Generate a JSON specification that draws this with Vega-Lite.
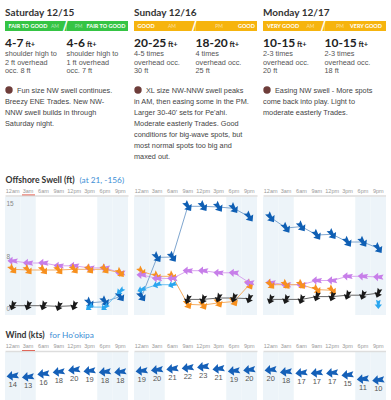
{
 "$schema": "https://vega.github.io/schema/vega-lite/v6.json",
 "padding": {"left": 5, "top": 5, "right": 0, "bottom": 0},
 "background": "white",
 "config": {"view": {"stroke": null}, "text": {"font": "Liberation Sans"}, "axis": {"grid": false}},
 "datasets": {
  "hdrSat": [
   {"kind": "title", "half": "AM", "text": "Saturday 12/15"},
   {"kind": "rating", "half": "AM", "text": "FAIR TO GOOD"},
   {"kind": "rating", "half": "PM", "text": "FAIR TO GOOD"},
   {"kind": "size", "half": "AM", "text": "4-7"},
   {"kind": "size", "half": "PM", "text": "4-6"},
   {"kind": "desc", "half": "AM", "text": "shoulder high to\n2 ft overhead\nocc. 8 ft"},
   {"kind": "desc", "half": "PM", "text": "shoulder high to\n1 ft overhead\nocc. 7 ft"},
   {"kind": "para1", "half": "AM", "text": "Fun size NW swell continues."},
   {"kind": "para", "half": "AM", "text": "Breezy ENE Trades. New NW-\nNNW swell builds in through\nSaturday night."}
  ],
  "hdrSun": [
   {"kind": "title", "half": "AM", "text": "Sunday 12/16"},
   {"kind": "rating", "half": "AM", "text": "GOOD"},
   {"kind": "rating", "half": "PM", "text": "GOOD"},
   {"kind": "size", "half": "AM", "text": "20-25"},
   {"kind": "size", "half": "PM", "text": "18-20"},
   {"kind": "desc", "half": "AM", "text": "4-5 times\noverhead occ.\n30 ft"},
   {"kind": "desc", "half": "PM", "text": "4 times\noverhead occ.\n25 ft"},
   {"kind": "para1", "half": "AM", "text": "XL size NW-NNW swell peaks"},
   {"kind": "para", "half": "AM", "text": "in AM, then easing some in the PM.\nLarger 30-40' sets for Pe'ahi.\nModerate easterly Trades. Good\nconditions for big-wave spots, but\nmost normal spots too big and\nmaxed out."}
  ],
  "hdrMon": [
   {"kind": "title", "half": "AM", "text": "Monday 12/17"},
   {"kind": "rating", "half": "AM", "text": "VERY GOOD"},
   {"kind": "rating", "half": "PM", "text": "VERY GOOD"},
   {"kind": "size", "half": "AM", "text": "10-15"},
   {"kind": "size", "half": "PM", "text": "10-15"},
   {"kind": "desc", "half": "AM", "text": "2-3 times\noverhead occ.\n20 ft"},
   {"kind": "desc", "half": "PM", "text": "2-3 times\noverhead occ.\n18 ft"},
   {"kind": "para1", "half": "AM", "text": "Easing NW swell - More spots"},
   {"kind": "para", "half": "AM", "text": "come back into play. Light to\nmoderate easterly Trades."}
  ],
  "night": [{"slot": "12am"}, {"slot": "3am"}, {"slot": "6pm"}, {"slot": "9pm"}],
  "swell": [
   {"day": "Sat", "slot": "12am", "swell": "E", "ht": 6.8, "dir": 272},
   {"day": "Sat", "slot": "3am", "swell": "E", "ht": 6.5, "dir": 272},
   {"day": "Sat", "slot": "6am", "swell": "E", "ht": 6.5, "dir": 272},
   {"day": "Sat", "slot": "9am", "swell": "E", "ht": 6.1, "dir": 272},
   {"day": "Sat", "slot": "12pm", "swell": "E", "ht": 6.1, "dir": 272},
   {"day": "Sat", "slot": "3pm", "swell": "E", "ht": 5.8, "dir": 272},
   {"day": "Sat", "slot": "6pm", "swell": "E", "ht": 5.8, "dir": 272},
   {"day": "Sat", "slot": "9pm", "swell": "E", "ht": 5.1, "dir": 272},
   {"day": "Sat", "slot": "12am", "swell": "NW", "ht": 5.6, "dir": 140},
   {"day": "Sat", "slot": "3am", "swell": "NW", "ht": 5.5, "dir": 140},
   {"day": "Sat", "slot": "6am", "swell": "NW", "ht": 5.5, "dir": 140},
   {"day": "Sat", "slot": "9am", "swell": "NW", "ht": 5.5, "dir": 140},
   {"day": "Sat", "slot": "12pm", "swell": "NW", "ht": 5.6, "dir": 140},
   {"day": "Sat", "slot": "3pm", "swell": "NW", "ht": 5.6, "dir": 140},
   {"day": "Sat", "slot": "6pm", "swell": "NW", "ht": 5.6, "dir": 140},
   {"day": "Sat", "slot": "9pm", "swell": "NW", "ht": 5.1, "dir": 140},
   {"day": "Sat", "slot": "12am", "swell": "NNE", "ht": 0.4, "dir": 200},
   {"day": "Sat", "slot": "3am", "swell": "NNE", "ht": 0.4, "dir": 200},
   {"day": "Sat", "slot": "6am", "swell": "NNE", "ht": 0.4, "dir": 200},
   {"day": "Sat", "slot": "9am", "swell": "NNE", "ht": 0.3, "dir": 200},
   {"day": "Sat", "slot": "12pm", "swell": "NNE", "ht": 0.4, "dir": 200},
   {"day": "Sat", "slot": "3pm", "swell": "NNW", "ht": 0.8, "dir": 145},
   {"day": "Sat", "slot": "6pm", "swell": "NNW", "ht": 1.0, "dir": 145},
   {"day": "Sat", "slot": "9pm", "swell": "NNW", "ht": 1.7, "dir": 145},
   {"day": "Sat", "slot": "3pm", "swell": "N", "ht": 0.2, "dir": 230},
   {"day": "Sat", "slot": "6pm", "swell": "N", "ht": 0.2, "dir": 230},
   {"day": "Sat", "slot": "9pm", "swell": "N", "ht": 2.5, "dir": 230},
   {"day": "Sun", "slot": "12am", "swell": "NW", "ht": 5.3, "dir": 140},
   {"day": "Sun", "slot": "3am", "swell": "NW", "ht": 4.6, "dir": 140},
   {"day": "Sun", "slot": "6am", "swell": "NW", "ht": 4.6, "dir": 140},
   {"day": "Sun", "slot": "9am", "swell": "NW", "ht": 0.6, "dir": 150},
   {"day": "Sun", "slot": "12pm", "swell": "NW", "ht": 0.5, "dir": 150},
   {"day": "Sun", "slot": "3pm", "swell": "NW", "ht": 0.8, "dir": 150},
   {"day": "Sun", "slot": "6pm", "swell": "NW", "ht": 1.0, "dir": 150},
   {"day": "Sun", "slot": "9pm", "swell": "NW", "ht": 3.4, "dir": 150},
   {"day": "Sun", "slot": "12am", "swell": "E", "ht": 4.8, "dir": 272},
   {"day": "Sun", "slot": "3am", "swell": "E", "ht": 4.3, "dir": 272},
   {"day": "Sun", "slot": "6am", "swell": "E", "ht": 4.3, "dir": 272},
   {"day": "Sun", "slot": "9am", "swell": "E", "ht": 5.4, "dir": 272},
   {"day": "Sun", "slot": "12pm", "swell": "E", "ht": 5.4, "dir": 272},
   {"day": "Sun", "slot": "3pm", "swell": "E", "ht": 5.1, "dir": 272},
   {"day": "Sun", "slot": "6pm", "swell": "E", "ht": 5.1, "dir": 272},
   {"day": "Sun", "slot": "9pm", "swell": "E", "ht": 3.7, "dir": 272},
   {"day": "Sun", "slot": "9am", "swell": "NNE", "ht": 1.3, "dir": 200},
   {"day": "Sun", "slot": "12pm", "swell": "NNE", "ht": 1.3, "dir": 200},
   {"day": "Sun", "slot": "3pm", "swell": "NNE", "ht": 1.5, "dir": 200},
   {"day": "Sun", "slot": "6pm", "swell": "NNE", "ht": 1.5, "dir": 200},
   {"day": "Sun", "slot": "9pm", "swell": "NNE", "ht": 1.4, "dir": 200},
   {"day": "Sun", "slot": "12am", "swell": "NNW", "ht": 1.7, "dir": 145},
   {"day": "Sun", "slot": "3am", "swell": "NNW", "ht": 7.3, "dir": 145},
   {"day": "Sun", "slot": "6am", "swell": "NNW", "ht": 7.35, "dir": 145},
   {"day": "Sun", "slot": "9am", "swell": "NNW", "ht": 14.6, "dir": 145},
   {"day": "Sun", "slot": "12pm", "swell": "NNW", "ht": 14.6, "dir": 145},
   {"day": "Sun", "slot": "3pm", "swell": "NNW", "ht": 14.5, "dir": 145},
   {"day": "Sun", "slot": "6pm", "swell": "NNW", "ht": 14.3, "dir": 145},
   {"day": "Sun", "slot": "9pm", "swell": "NNW", "ht": 13.1, "dir": 145},
   {"day": "Sun", "slot": "12am", "swell": "N", "ht": 2.7, "dir": 250},
   {"day": "Sun", "slot": "3am", "swell": "N", "ht": 3.4, "dir": 250},
   {"day": "Sun", "slot": "6am", "swell": "N", "ht": 3.4, "dir": 250},
   {"day": "Mon", "slot": "12am", "swell": "NNW", "ht": 13.0, "dir": 145},
   {"day": "Mon", "slot": "3am", "swell": "NNW", "ht": 11.5, "dir": 145},
   {"day": "Mon", "slot": "6am", "swell": "NNW", "ht": 11.7, "dir": 145},
   {"day": "Mon", "slot": "9am", "swell": "NNW", "ht": 10.5, "dir": 145},
   {"day": "Mon", "slot": "12pm", "swell": "NNW", "ht": 10.6, "dir": 145},
   {"day": "Mon", "slot": "3pm", "swell": "NNW", "ht": 9.5, "dir": 145},
   {"day": "Mon", "slot": "6pm", "swell": "NNW", "ht": 9.5, "dir": 145},
   {"day": "Mon", "slot": "9pm", "swell": "NNW", "ht": 8.6, "dir": 145},
   {"day": "Mon", "slot": "12am", "swell": "E", "ht": 3.7, "dir": 272},
   {"day": "Mon", "slot": "3am", "swell": "E", "ht": 3.4, "dir": 272},
   {"day": "Mon", "slot": "6am", "swell": "E", "ht": 3.4, "dir": 272},
   {"day": "Mon", "slot": "9am", "swell": "E", "ht": 4.0, "dir": 272},
   {"day": "Mon", "slot": "12pm", "swell": "E", "ht": 4.0, "dir": 272},
   {"day": "Mon", "slot": "3pm", "swell": "E", "ht": 4.6, "dir": 272},
   {"day": "Mon", "slot": "6pm", "swell": "E", "ht": 4.6, "dir": 272},
   {"day": "Mon", "slot": "9pm", "swell": "E", "ht": 4.5, "dir": 272},
   {"day": "Mon", "slot": "12am", "swell": "NW", "ht": 3.4, "dir": 140},
   {"day": "Mon", "slot": "3am", "swell": "NW", "ht": 3.4, "dir": 140},
   {"day": "Mon", "slot": "6am", "swell": "NW", "ht": 3.4, "dir": 140},
   {"day": "Mon", "slot": "9am", "swell": "NW", "ht": 2.7, "dir": 140},
   {"day": "Mon", "slot": "12pm", "swell": "NW", "ht": 2.6, "dir": 140},
   {"day": "Mon", "slot": "12am", "swell": "NNE", "ht": 1.3, "dir": 200},
   {"day": "Mon", "slot": "3am", "swell": "NNE", "ht": 1.3, "dir": 200},
   {"day": "Mon", "slot": "6am", "swell": "NNE", "ht": 1.3, "dir": 200},
   {"day": "Mon", "slot": "9am", "swell": "NNE", "ht": 1.7, "dir": 200},
   {"day": "Mon", "slot": "12pm", "swell": "NNE", "ht": 1.7, "dir": 200},
   {"day": "Mon", "slot": "3pm", "swell": "NNE", "ht": 1.9, "dir": 200},
   {"day": "Mon", "slot": "6pm", "swell": "NNE", "ht": 1.9, "dir": 200},
   {"day": "Mon", "slot": "9pm", "swell": "NNE", "ht": 2.2, "dir": 200},
   {"day": "Mon", "slot": "9pm", "swell": "N", "ht": 0.6, "dir": 180}
  ],
  "wind": [
   {"day": "Sat", "slot": "12am", "kts": 14, "dir": 264},
   {"day": "Sat", "slot": "3am", "kts": 13, "dir": 264},
   {"day": "Sat", "slot": "6am", "kts": 16, "dir": 264},
   {"day": "Sat", "slot": "9am", "kts": 18, "dir": 264},
   {"day": "Sat", "slot": "12pm", "kts": 20, "dir": 264},
   {"day": "Sat", "slot": "3pm", "kts": 19, "dir": 264},
   {"day": "Sat", "slot": "6pm", "kts": 18, "dir": 264},
   {"day": "Sat", "slot": "9pm", "kts": 18, "dir": 264},
   {"day": "Sun", "slot": "12am", "kts": 19, "dir": 264},
   {"day": "Sun", "slot": "3am", "kts": 20, "dir": 264},
   {"day": "Sun", "slot": "6am", "kts": 21, "dir": 264},
   {"day": "Sun", "slot": "9am", "kts": 22, "dir": 264},
   {"day": "Sun", "slot": "12pm", "kts": 23, "dir": 264},
   {"day": "Sun", "slot": "3pm", "kts": 21, "dir": 264},
   {"day": "Sun", "slot": "6pm", "kts": 19, "dir": 264},
   {"day": "Sun", "slot": "9pm", "kts": 20, "dir": 264},
   {"day": "Mon", "slot": "12am", "kts": 20, "dir": 264},
   {"day": "Mon", "slot": "3am", "kts": 18, "dir": 264},
   {"day": "Mon", "slot": "6am", "kts": 17, "dir": 264},
   {"day": "Mon", "slot": "9am", "kts": 17, "dir": 264},
   {"day": "Mon", "slot": "12pm", "kts": 17, "dir": 264},
   {"day": "Mon", "slot": "3pm", "kts": 15, "dir": 264},
   {"day": "Mon", "slot": "6pm", "kts": 11, "dir": 264},
   {"day": "Mon", "slot": "9pm", "kts": 10, "dir": 264}
  ]
 },
 "columns": 3,
 "spacing": {"row": 37, "column": 6},
 "bounds": "flush",
 "align": "each",
 "concat": [
  {
   "width": 123, "height": 155,
   "data": {"name": "hdrSat"},
   "layer": [
    {"transform": [{"filter": "datum.kind === 'title'"}],
     "mark": {"type": "text", "align": "left", "baseline": "alphabetic", "font": "Lato", "fontSize": 10, "fontWeight": "bold", "color": "#333333"},
     "encoding": {"x": {"datum": "AM", "bandPosition": 0, "scale": {"type": "band", "domain": ["AM", "PM"], "paddingInner": 0, "paddingOuter": 0}, "axis": null}, "y": {"datum": 1.1, "scale": {"domain": [0, 15.5], "range": [0, 155], "nice": false}, "axis": null}, "text": {"field": "text"}}},
    {"transform": [{"filter": "datum.kind === 'rating'"}],
     "mark": {"type": "rect", "fill": "#35c444"},
     "encoding": {"x": {"field": "half", "type": "nominal", "axis": null}, "y": {"datum": 1.6}, "y2": {"datum": 2.6}}},
    {"transform": [{"filter": "datum.kind === 'rating' && datum.half === 'PM'"}],
     "mark": {"type": "text", "align": "center", "baseline": "middle", "font": "DejaVu Sans", "fontSize": 13, "fontWeight": "bold", "color": "white", "dx": -1.5},
     "encoding": {"x": {"field": "half", "type": "nominal", "bandPosition": 0, "axis": null}, "y": {"datum": 2.1}, "text": {"value": "/"}}},
    {"transform": [{"filter": "datum.kind === 'rating' && datum.half === 'AM'"}],
     "mark": {"type": "text", "align": "left", "baseline": "middle", "font": "Lato", "fontSize": 5.5, "fontWeight": "bold", "color": "white", "dx": 3.5},
     "encoding": {"x": {"field": "half", "type": "nominal", "bandPosition": 0, "axis": null}, "y": {"datum": 2.1}, "text": {"field": "text"}}},
    {"transform": [{"filter": "datum.kind === 'rating' && datum.half === 'PM'"}],
     "mark": {"type": "text", "align": "right", "baseline": "middle", "font": "Lato", "fontSize": 5.5, "fontWeight": "bold", "color": "white", "dx": -2.5},
     "encoding": {"x": {"field": "half", "type": "nominal", "bandPosition": 1, "axis": null}, "y": {"datum": 2.1}, "text": {"field": "text"}}},
    {"transform": [{"filter": "datum.kind === 'rating' && datum.half === 'AM'"}],
     "mark": {"type": "text", "align": "center", "baseline": "middle", "font": "Lato", "fontSize": 5, "color": "rgba(255,255,255,0.6)", "dx": 50},
     "encoding": {"x": {"field": "half", "type": "nominal", "bandPosition": 0, "axis": null}, "y": {"datum": 2.1}, "text": {"field": "half"}}},
    {"transform": [{"filter": "datum.kind === 'rating' && datum.half === 'PM'"}],
     "mark": {"type": "text", "align": "center", "baseline": "middle", "font": "Lato", "fontSize": 5, "color": "rgba(255,255,255,0.6)", "dx": 12},
     "encoding": {"x": {"field": "half", "type": "nominal", "bandPosition": 0, "axis": null}, "y": {"datum": 2.1}, "text": {"field": "half"}}},
    {"transform": [{"filter": "datum.kind === 'size'"}],
     "mark": {"type": "text", "align": "left", "baseline": "alphabetic", "font": "Lato", "fontSize": 12, "fontWeight": "bold", "color": "#222222"},
     "encoding": {"x": {"field": "half", "type": "nominal", "bandPosition": 0, "axis": null}, "y": {"datum": 4.2}, "text": {"field": "text"}}},
    {"transform": [{"filter": "datum.kind === 'size'"}],
     "mark": {"type": "text", "align": "left", "baseline": "alphabetic", "font": "Lato", "fontSize": 7.5, "fontWeight": "bold", "color": "#222222", "dx": 20.5},
     "encoding": {"x": {"field": "half", "type": "nominal", "bandPosition": 0, "axis": null}, "y": {"datum": 4.2}, "text": {"value": "ft+"}}},
    {"transform": [{"filter": "datum.kind === 'desc'"}],
     "mark": {"type": "text", "align": "left", "baseline": "alphabetic", "fontSize": 7.3, "color": "#555555", "lineBreak": "\n", "lineHeight": 8.5},
     "encoding": {"x": {"field": "half", "type": "nominal", "bandPosition": 0, "axis": null}, "y": {"datum": 5.1}, "text": {"field": "text"}}},
    {"transform": [{"filter": "datum.kind === 'para1'"}],
     "mark": {"type": "point", "filled": true, "size": 55, "fill": "#6e3d3a", "strokeWidth": 0, "opacity": 1},
     "encoding": {"x": {"field": "half", "type": "nominal", "bandPosition": 0.065, "axis": null}, "y": {"datum": 8.5}}},
    {"transform": [{"filter": "datum.kind === 'para1'"}],
     "mark": {"type": "text", "align": "left", "baseline": "alphabetic", "fontSize": 7.3, "color": "#444444", "dx": 12},
     "encoding": {"x": {"field": "half", "type": "nominal", "bandPosition": 0, "axis": null}, "y": {"datum": 8.8}, "text": {"field": "text"}}},
    {"transform": [{"filter": "datum.kind === 'para'"}],
     "mark": {"type": "text", "align": "left", "baseline": "alphabetic", "fontSize": 7.3, "color": "#444444", "lineBreak": "\n", "lineHeight": 11},
     "encoding": {"x": {"field": "half", "type": "nominal", "bandPosition": 0, "axis": null}, "y": {"datum": 9.9}, "text": {"field": "text"}}}
   ]
  },
  {
   "width": 123, "height": 155,
   "data": {"name": "hdrSun"},
   "layer": [
    {"transform": [{"filter": "datum.kind === 'title'"}],
     "mark": {"type": "text", "align": "left", "baseline": "alphabetic", "font": "Lato", "fontSize": 10, "fontWeight": "bold", "color": "#333333"},
     "encoding": {"x": {"datum": "AM", "bandPosition": 0, "scale": {"type": "band", "domain": ["AM", "PM"], "paddingInner": 0, "paddingOuter": 0}, "axis": null}, "y": {"datum": 1.1, "scale": {"domain": [0, 15.5], "range": [0, 155], "nice": false}, "axis": null}, "text": {"field": "text"}}},
    {"transform": [{"filter": "datum.kind === 'rating'"}],
     "mark": {"type": "rect", "fill": "#f6b40e"},
     "encoding": {"x": {"field": "half", "type": "nominal", "axis": null}, "y": {"datum": 1.6}, "y2": {"datum": 2.6}}},
    {"transform": [{"filter": "datum.kind === 'rating' && datum.half === 'PM'"}],
     "mark": {"type": "text", "align": "center", "baseline": "middle", "font": "DejaVu Sans", "fontSize": 13, "fontWeight": "bold", "color": "white", "dx": -1.5},
     "encoding": {"x": {"field": "half", "type": "nominal", "bandPosition": 0, "axis": null}, "y": {"datum": 2.1}, "text": {"value": "/"}}},
    {"transform": [{"filter": "datum.kind === 'rating' && datum.half === 'AM'"}],
     "mark": {"type": "text", "align": "left", "baseline": "middle", "font": "Lato", "fontSize": 5.5, "fontWeight": "bold", "color": "white", "dx": 3.5},
     "encoding": {"x": {"field": "half", "type": "nominal", "bandPosition": 0, "axis": null}, "y": {"datum": 2.1}, "text": {"field": "text"}}},
    {"transform": [{"filter": "datum.kind === 'rating' && datum.half === 'PM'"}],
     "mark": {"type": "text", "align": "right", "baseline": "middle", "font": "Lato", "fontSize": 5.5, "fontWeight": "bold", "color": "white", "dx": -2},
     "encoding": {"x": {"field": "half", "type": "nominal", "bandPosition": 1, "axis": null}, "y": {"datum": 2.1}, "text": {"field": "text"}}},
    {"transform": [{"filter": "datum.kind === 'rating' && datum.half === 'AM'"}],
     "mark": {"type": "text", "align": "center", "baseline": "middle", "font": "Lato", "fontSize": 5, "color": "rgba(255,255,255,0.6)", "dx": 38},
     "encoding": {"x": {"field": "half", "type": "nominal", "bandPosition": 0, "axis": null}, "y": {"datum": 2.1}, "text": {"field": "half"}}},
    {"transform": [{"filter": "datum.kind === 'rating' && datum.half === 'PM'"}],
     "mark": {"type": "text", "align": "center", "baseline": "middle", "font": "Lato", "fontSize": 5, "color": "rgba(255,255,255,0.6)", "dx": 23.5},
     "encoding": {"x": {"field": "half", "type": "nominal", "bandPosition": 0, "axis": null}, "y": {"datum": 2.1}, "text": {"field": "half"}}},
    {"transform": [{"filter": "datum.kind === 'size'"}],
     "mark": {"type": "text", "align": "left", "baseline": "alphabetic", "font": "Lato", "fontSize": 12, "fontWeight": "bold", "color": "#222222"},
     "encoding": {"x": {"field": "half", "type": "nominal", "bandPosition": 0, "axis": null}, "y": {"datum": 4.2}, "text": {"field": "text"}}},
    {"transform": [{"filter": "datum.kind === 'size'"}],
     "mark": {"type": "text", "align": "left", "baseline": "alphabetic", "font": "Lato", "fontSize": 7.5, "fontWeight": "bold", "color": "#222222", "dx": 34},
     "encoding": {"x": {"field": "half", "type": "nominal", "bandPosition": 0, "axis": null}, "y": {"datum": 4.2}, "text": {"value": "ft+"}}},
    {"transform": [{"filter": "datum.kind === 'desc'"}],
     "mark": {"type": "text", "align": "left", "baseline": "alphabetic", "fontSize": 7.3, "color": "#555555", "lineBreak": "\n", "lineHeight": 8.5},
     "encoding": {"x": {"field": "half", "type": "nominal", "bandPosition": 0, "axis": null}, "y": {"datum": 5.1}, "text": {"field": "text"}}},
    {"transform": [{"filter": "datum.kind === 'para1'"}],
     "mark": {"type": "point", "filled": true, "size": 55, "fill": "#6e3d3a", "strokeWidth": 0, "opacity": 1},
     "encoding": {"x": {"field": "half", "type": "nominal", "bandPosition": 0.065, "axis": null}, "y": {"datum": 8.5}}},
    {"transform": [{"filter": "datum.kind === 'para1'"}],
     "mark": {"type": "text", "align": "left", "baseline": "alphabetic", "fontSize": 7.3, "color": "#444444", "dx": 12},
     "encoding": {"x": {"field": "half", "type": "nominal", "bandPosition": 0, "axis": null}, "y": {"datum": 8.8}, "text": {"field": "text"}}},
    {"transform": [{"filter": "datum.kind === 'para'"}],
     "mark": {"type": "text", "align": "left", "baseline": "alphabetic", "fontSize": 7.3, "color": "#444444", "lineBreak": "\n", "lineHeight": 11},
     "encoding": {"x": {"field": "half", "type": "nominal", "bandPosition": 0, "axis": null}, "y": {"datum": 9.9}, "text": {"field": "text"}}}
   ]
  },
  {
   "width": 123, "height": 155,
   "data": {"name": "hdrMon"},
   "layer": [
    {"transform": [{"filter": "datum.kind === 'title'"}],
     "mark": {"type": "text", "align": "left", "baseline": "alphabetic", "font": "Lato", "fontSize": 10, "fontWeight": "bold", "color": "#333333"},
     "encoding": {"x": {"datum": "AM", "bandPosition": 0, "scale": {"type": "band", "domain": ["AM", "PM"], "paddingInner": 0, "paddingOuter": 0}, "axis": null}, "y": {"datum": 1.1, "scale": {"domain": [0, 15.5], "range": [0, 155], "nice": false}, "axis": null}, "text": {"field": "text"}}},
    {"transform": [{"filter": "datum.kind === 'rating'"}],
     "mark": {"type": "rect", "fill": "#f6b40e"},
     "encoding": {"x": {"field": "half", "type": "nominal", "axis": null}, "y": {"datum": 1.6}, "y2": {"datum": 2.6}}},
    {"transform": [{"filter": "datum.kind === 'rating' && datum.half === 'PM'"}],
     "mark": {"type": "text", "align": "center", "baseline": "middle", "font": "DejaVu Sans", "fontSize": 13, "fontWeight": "bold", "color": "white", "dx": -1.5},
     "encoding": {"x": {"field": "half", "type": "nominal", "bandPosition": 0, "axis": null}, "y": {"datum": 2.1}, "text": {"value": "/"}}},
    {"transform": [{"filter": "datum.kind === 'rating' && datum.half === 'AM'"}],
     "mark": {"type": "text", "align": "left", "baseline": "middle", "font": "Lato", "fontSize": 5.5, "fontWeight": "bold", "color": "white", "dx": 4},
     "encoding": {"x": {"field": "half", "type": "nominal", "bandPosition": 0, "axis": null}, "y": {"datum": 2.1}, "text": {"field": "text"}}},
    {"transform": [{"filter": "datum.kind === 'rating' && datum.half === 'PM'"}],
     "mark": {"type": "text", "align": "right", "baseline": "middle", "font": "Lato", "fontSize": 5.5, "fontWeight": "bold", "color": "white", "dx": -4},
     "encoding": {"x": {"field": "half", "type": "nominal", "bandPosition": 1, "axis": null}, "y": {"datum": 2.1}, "text": {"field": "text"}}},
    {"transform": [{"filter": "datum.kind === 'rating' && datum.half === 'AM'"}],
     "mark": {"type": "text", "align": "center", "baseline": "middle", "font": "Lato", "fontSize": 5, "color": "rgba(255,255,255,0.6)", "dx": 47.5},
     "encoding": {"x": {"field": "half", "type": "nominal", "bandPosition": 0, "axis": null}, "y": {"datum": 2.1}, "text": {"field": "half"}}},
    {"transform": [{"filter": "datum.kind === 'rating' && datum.half === 'PM'"}],
     "mark": {"type": "text", "align": "center", "baseline": "middle", "font": "Lato", "fontSize": 5, "color": "rgba(255,255,255,0.6)", "dx": 15.5},
     "encoding": {"x": {"field": "half", "type": "nominal", "bandPosition": 0, "axis": null}, "y": {"datum": 2.1}, "text": {"field": "half"}}},
    {"transform": [{"filter": "datum.kind === 'size'"}],
     "mark": {"type": "text", "align": "left", "baseline": "alphabetic", "font": "Lato", "fontSize": 12, "fontWeight": "bold", "color": "#222222"},
     "encoding": {"x": {"field": "half", "type": "nominal", "bandPosition": 0, "axis": null}, "y": {"datum": 4.2}, "text": {"field": "text"}}},
    {"transform": [{"filter": "datum.kind === 'size'"}],
     "mark": {"type": "text", "align": "left", "baseline": "alphabetic", "font": "Lato", "fontSize": 7.5, "fontWeight": "bold", "color": "#222222", "dx": 34},
     "encoding": {"x": {"field": "half", "type": "nominal", "bandPosition": 0, "axis": null}, "y": {"datum": 4.2}, "text": {"value": "ft+"}}},
    {"transform": [{"filter": "datum.kind === 'desc'"}],
     "mark": {"type": "text", "align": "left", "baseline": "alphabetic", "fontSize": 7.3, "color": "#555555", "lineBreak": "\n", "lineHeight": 8.5},
     "encoding": {"x": {"field": "half", "type": "nominal", "bandPosition": 0, "axis": null}, "y": {"datum": 5.1}, "text": {"field": "text"}}},
    {"transform": [{"filter": "datum.kind === 'para1'"}],
     "mark": {"type": "point", "filled": true, "size": 55, "fill": "#6e3d3a", "strokeWidth": 0, "opacity": 1},
     "encoding": {"x": {"field": "half", "type": "nominal", "bandPosition": 0.065, "axis": null}, "y": {"datum": 8.5}}},
    {"transform": [{"filter": "datum.kind === 'para1'"}],
     "mark": {"type": "text", "align": "left", "baseline": "alphabetic", "fontSize": 7.3, "color": "#444444", "dx": 12},
     "encoding": {"x": {"field": "half", "type": "nominal", "bandPosition": 0, "axis": null}, "y": {"datum": 8.8}, "text": {"field": "text"}}},
    {"transform": [{"filter": "datum.kind === 'para'"}],
     "mark": {"type": "text", "align": "left", "baseline": "alphabetic", "fontSize": 7.3, "color": "#444444", "lineBreak": "\n", "lineHeight": 11},
     "encoding": {"x": {"field": "half", "type": "nominal", "bandPosition": 0, "axis": null}, "y": {"datum": 9.9}, "text": {"field": "text"}}}
   ]
  },
  {
   "width": 123, "height": 118,
   "layer": [
    {"data": {"name": "night"},
     "mark": {"type": "rect", "fill": "#edf4f9"},
     "encoding": {"x": {"field": "slot", "type": "ordinal", "scale": {"type": "band", "domain": ["12am", "3am", "6am", "9am", "12pm", "3pm", "6pm", "9pm"], "paddingInner": 0, "paddingOuter": 0},
       "axis": {"orient": "top", "offset": 1.5, "domainColor": "#dddddd", "domainWidth": 1.5, "ticks": true, "tickSize": 1.5, "tickWidth": 13, "tickCap": "butt", "tickColor": {"condition": {"test": "datum.value === '3am'", "value": "#e0402f"}, "value": "transparent"}, "bandPosition": 0.5, "labelPadding": 1, "labelFont": "Liberation Sans", "labelFontSize": 5.5, "labelColor": "#999999", "labelAngle": 0, "labelOverlap": false, "title": "Offshore Swell (ft)", "titleX": 0, "titleY": -13.5, "titleAlign": "left", "titleBaseline": "alphabetic", "titleFont": "Lato", "titleFontSize": 8.6, "titleFontWeight": "bold", "titleColor": "#333333", "titleAngle": 0}}}},
    {"data": {"name": "swell"},
     "transform": [{"filter": "datum.day === 'Sat'"}],
     "encoding": {
      "x": {"field": "slot", "type": "ordinal", "bandPosition": 0.5, "title": "Offshore Swell (ft)"},
      "y": {"field": "ht", "type": "quantitative", "scale": {"domain": [0, 15], "range": [111.5, 6.5], "nice": false},
       "axis": {"orient": "left", "zindex": 3, "values": [0, 7.5, 15], "labelOverlap": false, "labelFlush": false, "labelBound": false, "domain": false, "ticks": false, "tickSize": 0, "grid": false, "labelAlign": "left", "labelBaseline": "middle", "labelPadding": -1, "labelFont": "Liberation Sans", "labelFontSize": 6.5, "labelColor": "#888888", "title": "(at 21, -156)", "titleX": 74, "titleY": -15, "titleAngle": 0, "titleAlign": "left", "titleBaseline": "alphabetic", "titleFont": "Lato", "titleFontSize": 8.3, "titleFontWeight": "normal", "titleColor": "#3d8ed5"}}
     },
     "layer": [
      {"mark": {"type": "line", "strokeWidth": 1},
       "encoding": {"stroke": {"field": "swell", "type": "nominal", "scale": {"domain": ["NNW", "NW", "E", "NNE", "N"], "range": ["#7fa6cf", "#f6ae62", "#d9a6ef", "#666666", "#6cc0f0"]}, "legend": null}}},
      {"mark": {"type": "point", "filled": true, "opacity": 1, "strokeWidth": 0, "shape": "M0,-1L0.8,-0.05L0.28,-0.05L0.5,1L0,0.7L-0.5,1L-0.28,-0.05L-0.8,-0.05Z"},
       "encoding": {
        "fill": {"field": "swell", "type": "nominal", "scale": {"domain": ["NNW", "NW", "E", "NNE", "N"], "range": ["#0f5fb4", "#f7901e", "#c77ee9", "#1a1a1a", "#2aa6ef"]}, "legend": null},
        "size": {"field": "swell", "type": "nominal", "scale": {"domain": ["NNW", "NW", "E", "NNE", "N"], "range": [130, 85, 55, 70, 80]}, "legend": null},
        "angle": {"field": "dir", "type": "quantitative", "scale": null}}}
     ]}
   ]
  },
  {
   "width": 123, "height": 118,
   "layer": [
    {"data": {"name": "night"},
     "mark": {"type": "rect", "fill": "#edf4f9"},
     "encoding": {"x": {"field": "slot", "type": "ordinal", "scale": {"type": "band", "domain": ["12am", "3am", "6am", "9am", "12pm", "3pm", "6pm", "9pm"], "paddingInner": 0, "paddingOuter": 0},
       "axis": {"orient": "top", "offset": 1.5, "domainColor": "#dddddd", "domainWidth": 1.5, "ticks": true, "tickSize": 1.5, "tickWidth": 13, "tickCap": "butt", "tickColor": "transparent", "bandPosition": 0.5, "labelPadding": 1, "labelFont": "Liberation Sans", "labelFontSize": 5.5, "labelColor": "#999999", "labelAngle": 0, "labelOverlap": false, "title": null}}}},
    {"data": {"name": "swell"},
     "transform": [{"filter": "datum.day === 'Sun'"}],
     "encoding": {
      "x": {"field": "slot", "type": "ordinal", "bandPosition": 0.5, "title": null},
      "y": {"field": "ht", "type": "quantitative", "scale": {"domain": [0, 15], "range": [111.5, 6.5], "nice": false}, "axis": null}
     },
     "layer": [
      {"mark": {"type": "line", "strokeWidth": 1},
       "encoding": {"stroke": {"field": "swell", "type": "nominal", "scale": {"domain": ["NNW", "NW", "E", "NNE", "N"], "range": ["#7fa6cf", "#f6ae62", "#d9a6ef", "#666666", "#6cc0f0"]}, "legend": null}}},
      {"mark": {"type": "point", "filled": true, "opacity": 1, "strokeWidth": 0, "shape": "M0,-1L0.8,-0.05L0.28,-0.05L0.5,1L0,0.7L-0.5,1L-0.28,-0.05L-0.8,-0.05Z"},
       "encoding": {
        "fill": {"field": "swell", "type": "nominal", "scale": {"domain": ["NNW", "NW", "E", "NNE", "N"], "range": ["#0f5fb4", "#f7901e", "#c77ee9", "#1a1a1a", "#2aa6ef"]}, "legend": null},
        "size": {"field": "swell", "type": "nominal", "scale": {"domain": ["NNW", "NW", "E", "NNE", "N"], "range": [130, 85, 55, 70, 80]}, "legend": null},
        "angle": {"field": "dir", "type": "quantitative", "scale": null}}}
     ]}
   ]
  },
  {
   "width": 123, "height": 118,
   "layer": [
    {"data": {"name": "night"},
     "mark": {"type": "rect", "fill": "#edf4f9"},
     "encoding": {"x": {"field": "slot", "type": "ordinal", "scale": {"type": "band", "domain": ["12am", "3am", "6am", "9am", "12pm", "3pm", "6pm", "9pm"], "paddingInner": 0, "paddingOuter": 0},
       "axis": {"orient": "top", "offset": 1.5, "domainColor": "#dddddd", "domainWidth": 1.5, "ticks": true, "tickSize": 1.5, "tickWidth": 13, "tickCap": "butt", "tickColor": "transparent", "bandPosition": 0.5, "labelPadding": 1, "labelFont": "Liberation Sans", "labelFontSize": 5.5, "labelColor": "#999999", "labelAngle": 0, "labelOverlap": false, "title": null}}}},
    {"data": {"name": "swell"},
     "transform": [{"filter": "datum.day === 'Mon'"}],
     "encoding": {
      "x": {"field": "slot", "type": "ordinal", "bandPosition": 0.5, "title": null},
      "y": {"field": "ht", "type": "quantitative", "scale": {"domain": [0, 15], "range": [111.5, 6.5], "nice": false}, "axis": null}
     },
     "layer": [
      {"mark": {"type": "line", "strokeWidth": 1},
       "encoding": {"stroke": {"field": "swell", "type": "nominal", "scale": {"domain": ["NNW", "NW", "E", "NNE", "N"], "range": ["#7fa6cf", "#f6ae62", "#d9a6ef", "#666666", "#6cc0f0"]}, "legend": null}}},
      {"mark": {"type": "point", "filled": true, "opacity": 1, "strokeWidth": 0, "shape": "M0,-1L0.8,-0.05L0.28,-0.05L0.5,1L0,0.7L-0.5,1L-0.28,-0.05L-0.8,-0.05Z"},
       "encoding": {
        "fill": {"field": "swell", "type": "nominal", "scale": {"domain": ["NNW", "NW", "E", "NNE", "N"], "range": ["#0f5fb4", "#f7901e", "#c77ee9", "#1a1a1a", "#2aa6ef"]}, "legend": null},
        "size": {"field": "swell", "type": "nominal", "scale": {"domain": ["NNW", "NW", "E", "NNE", "N"], "range": [130, 85, 55, 70, 130]}, "legend": null},
        "angle": {"field": "dir", "type": "quantitative", "scale": null}}}
     ]}
   ]
  },
  {
   "width": 123, "height": 48,
   "layer": [
    {"data": {"name": "night"},
     "mark": {"type": "rect", "fill": "#edf4f9"},
     "encoding": {"x": {"field": "slot", "type": "ordinal", "scale": {"type": "band", "domain": ["12am", "3am", "6am", "9am", "12pm", "3pm", "6pm", "9pm"], "paddingInner": 0, "paddingOuter": 0},
       "axis": {"orient": "top", "offset": 1, "domainColor": "#dddddd", "domainWidth": 1.5, "ticks": true, "tickSize": 1.5, "tickWidth": 13, "tickCap": "butt", "tickColor": {"condition": {"test": "datum.value === '3am'", "value": "#e0402f"}, "value": "transparent"}, "bandPosition": 0.5, "labelPadding": 1, "labelFont": "Liberation Sans", "labelFontSize": 5.5, "labelColor": "#999999", "labelAngle": 0, "labelOverlap": false, "title": "Wind (kts)", "titleX": 0, "titleY": -14, "titleAlign": "left", "titleBaseline": "alphabetic", "titleFont": "Lato", "titleFontSize": 8.6, "titleFontWeight": "bold", "titleColor": "#333333", "titleAngle": 0}}}},
    {"data": {"name": "wind"},
     "transform": [{"filter": "datum.day === 'Sat'"}],
     "encoding": {
      "x": {"field": "slot", "type": "ordinal", "bandPosition": 0.5, "title": "Wind (kts)"},
      "y": {"field": "kts", "type": "quantitative", "scale": {"domain": [0, 30], "range": [38.2, 7.6], "nice": false},
       "axis": {"orient": "left", "labels": false, "domain": false, "ticks": false, "grid": false, "title": "for Ho'okipa", "titleX": 44, "titleY": -15, "titleAngle": 0, "titleAlign": "left", "titleBaseline": "alphabetic", "titleFont": "Lato", "titleFontSize": 8.3, "titleFontWeight": "normal", "titleColor": "#3d8ed5"}}
     },
     "layer": [
      {"mark": {"type": "point", "filled": true, "opacity": 1, "strokeWidth": 0, "fill": "#1560b8", "size": 150, "shape": "M0,-1L0.8,-0.05L0.28,-0.05L0.5,1L0,0.7L-0.5,1L-0.28,-0.05L-0.8,-0.05Z"},
       "encoding": {"angle": {"field": "dir", "type": "quantitative", "scale": null}}},
      {"mark": {"type": "text", "dy": 9, "fontSize": 7.5, "color": "#555555", "baseline": "middle", "align": "center"},
       "encoding": {"text": {"field": "kts", "type": "quantitative"}}}
     ]}
   ]
  },
  {
   "width": 123, "height": 48,
   "layer": [
    {"data": {"name": "night"},
     "mark": {"type": "rect", "fill": "#edf4f9"},
     "encoding": {"x": {"field": "slot", "type": "ordinal", "scale": {"type": "band", "domain": ["12am", "3am", "6am", "9am", "12pm", "3pm", "6pm", "9pm"], "paddingInner": 0, "paddingOuter": 0},
       "axis": {"orient": "top", "offset": 1, "domainColor": "#dddddd", "domainWidth": 1.5, "ticks": true, "tickSize": 1.5, "tickWidth": 13, "tickCap": "butt", "tickColor": "transparent", "bandPosition": 0.5, "labelPadding": 1, "labelFont": "Liberation Sans", "labelFontSize": 5.5, "labelColor": "#999999", "labelAngle": 0, "labelOverlap": false, "title": null}}}},
    {"data": {"name": "wind"},
     "transform": [{"filter": "datum.day === 'Sun'"}],
     "encoding": {
      "x": {"field": "slot", "type": "ordinal", "bandPosition": 0.5, "title": null},
      "y": {"field": "kts", "type": "quantitative", "scale": {"domain": [0, 30], "range": [38.2, 7.6], "nice": false}, "axis": null}
     },
     "layer": [
      {"mark": {"type": "point", "filled": true, "opacity": 1, "strokeWidth": 0, "fill": "#1560b8", "size": 150, "shape": "M0,-1L0.8,-0.05L0.28,-0.05L0.5,1L0,0.7L-0.5,1L-0.28,-0.05L-0.8,-0.05Z"},
       "encoding": {"angle": {"field": "dir", "type": "quantitative", "scale": null}}},
      {"mark": {"type": "text", "dy": 9, "fontSize": 7.5, "color": "#555555", "baseline": "middle", "align": "center"},
       "encoding": {"text": {"field": "kts", "type": "quantitative"}}}
     ]}
   ]
  },
  {
   "width": 123, "height": 48,
   "layer": [
    {"data": {"name": "night"},
     "mark": {"type": "rect", "fill": "#edf4f9"},
     "encoding": {"x": {"field": "slot", "type": "ordinal", "scale": {"type": "band", "domain": ["12am", "3am", "6am", "9am", "12pm", "3pm", "6pm", "9pm"], "paddingInner": 0, "paddingOuter": 0},
       "axis": {"orient": "top", "offset": 1, "domainColor": "#dddddd", "domainWidth": 1.5, "ticks": true, "tickSize": 1.5, "tickWidth": 13, "tickCap": "butt", "tickColor": "transparent", "bandPosition": 0.5, "labelPadding": 1, "labelFont": "Liberation Sans", "labelFontSize": 5.5, "labelColor": "#999999", "labelAngle": 0, "labelOverlap": false, "title": null}}}},
    {"data": {"name": "wind"},
     "transform": [{"filter": "datum.day === 'Mon'"}],
     "encoding": {
      "x": {"field": "slot", "type": "ordinal", "bandPosition": 0.5, "title": null},
      "y": {"field": "kts", "type": "quantitative", "scale": {"domain": [0, 30], "range": [38.2, 7.6], "nice": false}, "axis": null}
     },
     "layer": [
      {"mark": {"type": "point", "filled": true, "opacity": 1, "strokeWidth": 0, "fill": "#1560b8", "size": 150, "shape": "M0,-1L0.8,-0.05L0.28,-0.05L0.5,1L0,0.7L-0.5,1L-0.28,-0.05L-0.8,-0.05Z"},
       "encoding": {"angle": {"field": "dir", "type": "quantitative", "scale": null}}},
      {"mark": {"type": "text", "dy": 9, "fontSize": 7.5, "color": "#555555", "baseline": "middle", "align": "center"},
       "encoding": {"text": {"field": "kts", "type": "quantitative"}}}
     ]}
   ]
  }
 ]
}
